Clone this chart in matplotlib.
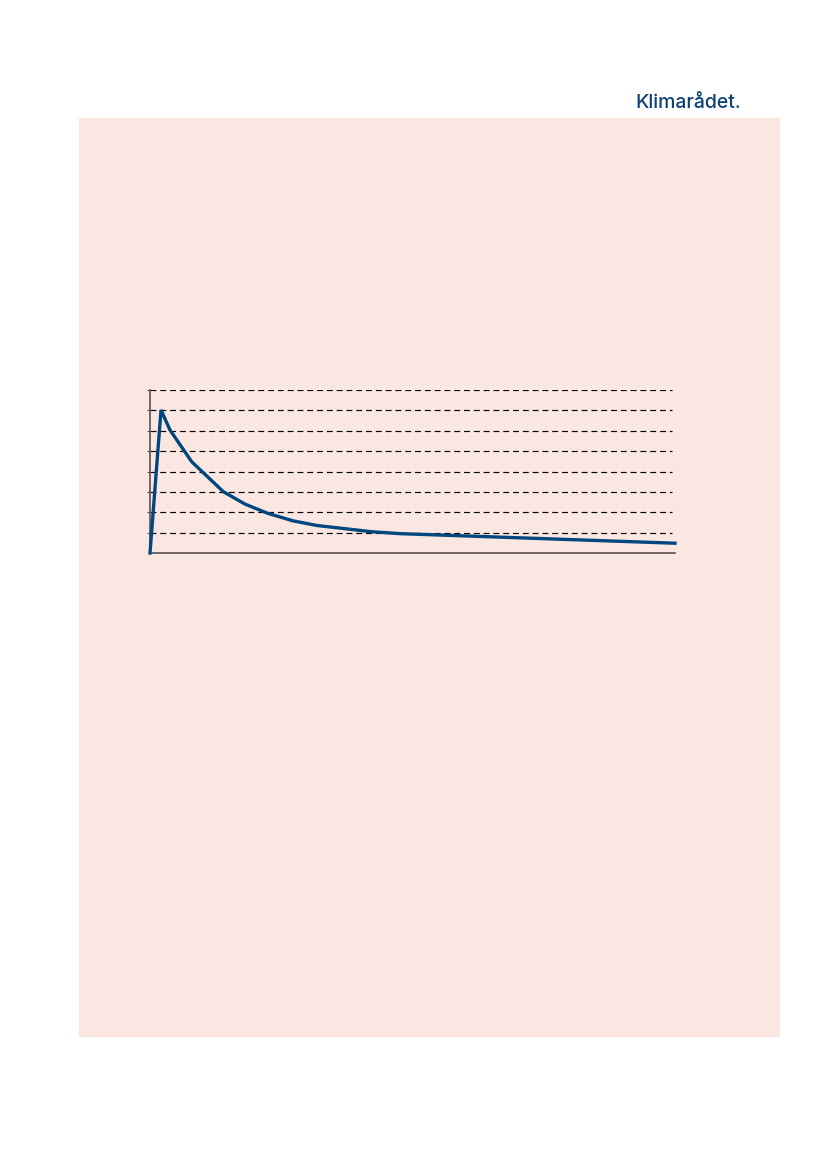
import numpy as np
import matplotlib.pyplot as plt
from matplotlib.patches import Rectangle

# curve (x in years, y in arbitrary units)
years = [0, 1.05, 1.9, 3.97, 6.98, 9.05, 11.2, 13.6, 15.9, 21.0, 23.8, 50]
values = [0, 7.02, 6.04, 4.48, 3.01, 2.40, 1.95, 1.58, 1.35, 1.05, 0.95, 0.48]
grid_levels = [1, 2, 3, 4, 5, 6, 7, 8]

fig = plt.figure(figsize=(8.27, 11.69), dpi=100)

# pink page panel
W, H = 827, 1169
fig.patches.append(Rectangle((79 / W, 1 - 1036 / H), 700 / W, 918 / H,
                             transform=fig.transFigure, color='#fbe7e1', zorder=-5))

fig.text(741 / W, 1 - 103 / H, 'Klimarådet.', ha='right', va='center',
         fontsize=14, family='Inter', weight='medium', color='#0e4277')

ax = fig.add_axes([150 / W, 1 - 553 / H, 525 / W, 163 / H])
ax.set_zorder(2)
ax.patch.set_alpha(0)
ax.set_xlim(0, 50)
ax.set_ylim(0, 8)

for g in grid_levels:
    ax.plot([0, 49.7], [g, g], color='black', lw=0.85, ls=(0, (5, 3.3)), zorder=1)

ax.plot(years, values, color='#00467f', lw=2.4, solid_joinstyle='miter', zorder=3, clip_on=False)

for s in ['top', 'right']:
    ax.spines[s].set_visible(False)
for s in ['left', 'bottom']:
    ax.spines[s].set_color('#5b514f')
    ax.spines[s].set_linewidth(1.2)
ax.set_xticks([])
ax.set_yticks(grid_levels)
ax.tick_params(axis='y', length=2, width=0.8, color='#5b514f', labelleft=False)

fig.savefig('out.png', dpi=100)
